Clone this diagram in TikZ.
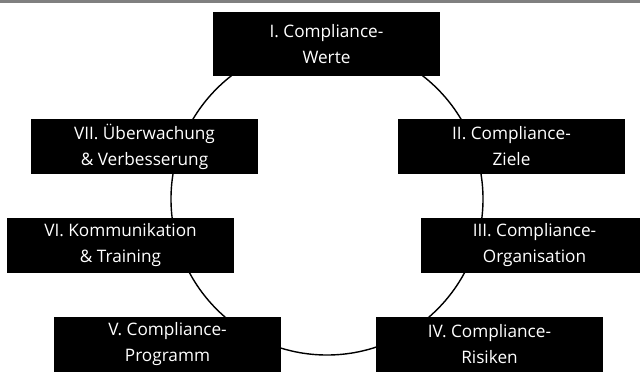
\documentclass[tikz,border=0pt]{standalone}
\usepackage{fontspec}
\setmainfont{Open Sans}
\begin{document}
\begin{tikzpicture}[x=1pt,y=-1pt,
  stagebox/.style={fill=black, text=white, minimum width=227pt, minimum height=55pt,
    inner sep=0pt, align=center, font=\fontsize{17.2}{26}\selectfont}]
\useasboundingbox (0,0) rectangle (640,381);
\clip (0,0) rectangle (640,381);
\draw[gray, line width=2.5pt] (0,1.5) -- (640,1.5);
\node[draw=black, line width=1.4pt, circle, minimum size=312pt, inner sep=0pt] (ring) at (327,199) {};
\node[stagebox, minimum height=64pt] (s1) at (326.5,44) {I. Compliance-\\Werte};
\node[stagebox] (s2) at (511.5,146.5) {II. Compliance-\\Ziele};
\node[stagebox] (s3) at (534.5,245.5) {III. Compliance-\\Organisation};
\node[stagebox] (s4) at (489.5,344) {IV. Compliance-\\Risiken};
\node[stagebox] (s5) at (167.5,344) {V. Compliance-\\Programm};
\node[stagebox] (s6) at (120.5,245) {VI. Kommunikation\\\& Training};
\node[stagebox] (s7) at (144.5,146.5) {VII. Überwachung\\\& Verbesserung};
\end{tikzpicture}
\end{document}
